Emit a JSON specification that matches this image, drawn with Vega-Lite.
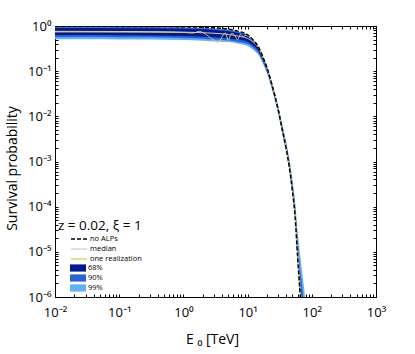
{
  "$schema": "https://vega.github.io/schema/vega-lite/v6.json",
  "width": 321,
  "height": 271,
  "autosize": {"type": "none"},
  "padding": {"left": 55, "top": 26, "right": 39, "bottom": 57},
  "background": "white",
  "title": {"text": "z = 0.02,  ξ = 1", "anchor": "start", "frame": "group", "orient": "top", "offset": 0, "dx": 3, "dy": 212, "fontSize": 13.5, "fontWeight": "normal", "font": "Open Sans", "color": "black"},
  "config": {
    "view": {"stroke": "black", "strokeWidth": 1},
    "font": "Open Sans",
    "axis": {"domainColor": "black", "tickColor": "black", "labelColor": "black", "titleColor": "black", "grid": false, "labelFont": "Open Sans", "titleFont": "Open Sans", "labelFontSize": 13, "titleFontSize": 14, "titleFontWeight": "normal", "tickSize": -3, "labelOverlap": false, "labelFlush": false},
    "legend": {"labelFont": "Open Sans", "labelColor": "black"}
  },
  "datasets": {
    "bands": [
      {"E": 0.01, "band": "99%", "lo": 0.51, "hi": 0.965},
      {"E": 0.03, "band": "99%", "lo": 0.51, "hi": 0.965},
      {"E": 0.1, "band": "99%", "lo": 0.505, "hi": 0.96},
      {"E": 0.3, "band": "99%", "lo": 0.5, "hi": 0.955},
      {"E": 1, "band": "99%", "lo": 0.49, "hi": 0.94},
      {"E": 2, "band": "99%", "lo": 0.47, "hi": 0.92},
      {"E": 3, "band": "99%", "lo": 0.455, "hi": 0.89},
      {"E": 5, "band": "99%", "lo": 0.44, "hi": 0.84},
      {"E": 7, "band": "99%", "lo": 0.41, "hi": 0.76},
      {"E": 10, "band": "99%", "lo": 0.36, "hi": 0.635},
      {"E": 12, "band": "99%", "lo": 0.3, "hi": 0.5},
      {"E": 15, "band": "99%", "lo": 0.22, "hi": 0.34},
      {"E": 17, "band": "99%", "lo": 0.155, "hi": 0.228},
      {"E": 20, "band": "99%", "lo": 0.09, "hi": 0.13},
      {"E": 25, "band": "99%", "lo": 0.031, "hi": 0.045},
      {"E": 30, "band": "99%", "lo": 0.011, "hi": 0.017},
      {"E": 35, "band": "99%", "lo": 0.0038, "hi": 0.0063},
      {"E": 40, "band": "99%", "lo": 0.0015, "hi": 0.0027},
      {"E": 45, "band": "99%", "lo": 0.00058, "hi": 0.0011},
      {"E": 50, "band": "99%", "lo": 0.00018, "hi": 0.0004},
      {"E": 55, "band": "99%", "lo": 0.00005, "hi": 0.00013},
      {"E": 60, "band": "99%", "lo": 7e-6, "hi": 3e-5},
      {"E": 65, "band": "99%", "lo": 1.4e-6, "hi": 1e-5},
      {"E": 70, "band": "99%", "lo": 4e-7, "hi": 4e-6},
      {"E": 75, "band": "99%", "lo": 1e-7, "hi": 1.8e-6},
      {"E": 80, "band": "99%", "lo": 1e-7, "hi": 8e-7},
      {"E": 0.01, "band": "90%", "lo": 0.57, "hi": 0.94},
      {"E": 0.03, "band": "90%", "lo": 0.57, "hi": 0.94},
      {"E": 0.1, "band": "90%", "lo": 0.565, "hi": 0.935},
      {"E": 0.3, "band": "90%", "lo": 0.56, "hi": 0.93},
      {"E": 1, "band": "90%", "lo": 0.54, "hi": 0.91},
      {"E": 2, "band": "90%", "lo": 0.52, "hi": 0.89},
      {"E": 3, "band": "90%", "lo": 0.5, "hi": 0.86},
      {"E": 5, "band": "90%", "lo": 0.48, "hi": 0.81},
      {"E": 7, "band": "90%", "lo": 0.45, "hi": 0.74},
      {"E": 10, "band": "90%", "lo": 0.4, "hi": 0.62},
      {"E": 12, "band": "90%", "lo": 0.34, "hi": 0.49},
      {"E": 15, "band": "90%", "lo": 0.245, "hi": 0.335},
      {"E": 17, "band": "90%", "lo": 0.17, "hi": 0.225},
      {"E": 20, "band": "90%", "lo": 0.098, "hi": 0.127},
      {"E": 25, "band": "90%", "lo": 0.034, "hi": 0.044},
      {"E": 30, "band": "90%", "lo": 0.0122, "hi": 0.016},
      {"E": 35, "band": "90%", "lo": 0.0042, "hi": 0.0058},
      {"E": 40, "band": "90%", "lo": 0.0017, "hi": 0.0024},
      {"E": 45, "band": "90%", "lo": 0.00064, "hi": 0.00095},
      {"E": 50, "band": "90%", "lo": 0.0002, "hi": 0.00033},
      {"E": 55, "band": "90%", "lo": 0.000055, "hi": 0.0001},
      {"E": 60, "band": "90%", "lo": 8e-6, "hi": 2e-5},
      {"E": 65, "band": "90%", "lo": 1.5e-6, "hi": 5e-6},
      {"E": 70, "band": "90%", "lo": 4e-7, "hi": 1.9e-6},
      {"E": 75, "band": "90%", "lo": 1e-7, "hi": 8e-7},
      {"E": 0.01, "band": "68%", "lo": 0.63, "hi": 0.9},
      {"E": 0.03, "band": "68%", "lo": 0.63, "hi": 0.9},
      {"E": 0.1, "band": "68%", "lo": 0.625, "hi": 0.895},
      {"E": 0.3, "band": "68%", "lo": 0.62, "hi": 0.89},
      {"E": 1, "band": "68%", "lo": 0.6, "hi": 0.87},
      {"E": 2, "band": "68%", "lo": 0.58, "hi": 0.85},
      {"E": 3, "band": "68%", "lo": 0.56, "hi": 0.82},
      {"E": 5, "band": "68%", "lo": 0.53, "hi": 0.77},
      {"E": 7, "band": "68%", "lo": 0.5, "hi": 0.7},
      {"E": 10, "band": "68%", "lo": 0.45, "hi": 0.6},
      {"E": 12, "band": "68%", "lo": 0.38, "hi": 0.47},
      {"E": 15, "band": "68%", "lo": 0.27, "hi": 0.33},
      {"E": 17, "band": "68%", "lo": 0.185, "hi": 0.225},
      {"E": 20, "band": "68%", "lo": 0.105, "hi": 0.125},
      {"E": 25, "band": "68%", "lo": 0.036, "hi": 0.043},
      {"E": 30, "band": "68%", "lo": 0.013, "hi": 0.0155},
      {"E": 35, "band": "68%", "lo": 0.0045, "hi": 0.0055},
      {"E": 40, "band": "68%", "lo": 0.0018, "hi": 0.0022},
      {"E": 45, "band": "68%", "lo": 0.00068, "hi": 0.00085},
      {"E": 50, "band": "68%", "lo": 0.00021, "hi": 0.00028},
      {"E": 55, "band": "68%", "lo": 0.00006, "hi": 0.00008},
      {"E": 60, "band": "68%", "lo": 9e-6, "hi": 1.3e-5},
      {"E": 65, "band": "68%", "lo": 1.6e-6, "hi": 3e-6},
      {"E": 70, "band": "68%", "lo": 4e-7, "hi": 1e-6},
      {"E": 75, "band": "68%", "lo": 1e-7, "hi": 3e-7}
    ],
    "lines": [
      {"E": 0.01, "series": "no ALPs", "P": 0.985},
      {"E": 0.03, "series": "no ALPs", "P": 0.985},
      {"E": 0.1, "series": "no ALPs", "P": 0.98},
      {"E": 0.3, "series": "no ALPs", "P": 0.975},
      {"E": 1, "series": "no ALPs", "P": 0.96},
      {"E": 2, "series": "no ALPs", "P": 0.935},
      {"E": 3, "series": "no ALPs", "P": 0.91},
      {"E": 5, "series": "no ALPs", "P": 0.85},
      {"E": 7, "series": "no ALPs", "P": 0.77},
      {"E": 10, "series": "no ALPs", "P": 0.64},
      {"E": 12, "series": "no ALPs", "P": 0.5},
      {"E": 15, "series": "no ALPs", "P": 0.33},
      {"E": 17, "series": "no ALPs", "P": 0.22},
      {"E": 20, "series": "no ALPs", "P": 0.12},
      {"E": 25, "series": "no ALPs", "P": 0.04},
      {"E": 30, "series": "no ALPs", "P": 0.014},
      {"E": 35, "series": "no ALPs", "P": 0.0048},
      {"E": 40, "series": "no ALPs", "P": 0.0019},
      {"E": 45, "series": "no ALPs", "P": 0.0007},
      {"E": 50, "series": "no ALPs", "P": 0.00022},
      {"E": 55, "series": "no ALPs", "P": 0.00006},
      {"E": 60, "series": "no ALPs", "P": 8e-6},
      {"E": 65, "series": "no ALPs", "P": 1.5e-6},
      {"E": 70, "series": "no ALPs", "P": 4e-7},
      {"E": 0.01, "series": "median", "P": 0.76},
      {"E": 0.1, "series": "median", "P": 0.755},
      {"E": 0.3, "series": "median", "P": 0.75},
      {"E": 1, "series": "median", "P": 0.73},
      {"E": 2, "series": "median", "P": 0.71},
      {"E": 3, "series": "median", "P": 0.69},
      {"E": 5, "series": "median", "P": 0.65},
      {"E": 7, "series": "median", "P": 0.6},
      {"E": 10, "series": "median", "P": 0.53},
      {"E": 12, "series": "median", "P": 0.45},
      {"E": 15, "series": "median", "P": 0.32},
      {"E": 17, "series": "median", "P": 0.215},
      {"E": 20, "series": "median", "P": 0.118},
      {"E": 25, "series": "median", "P": 0.04},
      {"E": 30, "series": "median", "P": 0.0142},
      {"E": 35, "series": "median", "P": 0.005},
      {"E": 40, "series": "median", "P": 0.002},
      {"E": 45, "series": "median", "P": 0.00075},
      {"E": 50, "series": "median", "P": 0.00024},
      {"E": 55, "series": "median", "P": 0.000068},
      {"E": 60, "series": "median", "P": 0.000011},
      {"E": 65, "series": "median", "P": 2.2e-6},
      {"E": 70, "series": "median", "P": 6e-7},
      {"E": 0.01, "series": "one realization", "P": 0.74},
      {"E": 0.1, "series": "one realization", "P": 0.735},
      {"E": 0.3, "series": "one realization", "P": 0.73},
      {"E": 1, "series": "one realization", "P": 0.72},
      {"E": 1.4, "series": "one realization", "P": 0.7},
      {"E": 1.8, "series": "one realization", "P": 0.76},
      {"E": 2.2, "series": "one realization", "P": 0.66},
      {"E": 2.8, "series": "one realization", "P": 0.52},
      {"E": 3.5, "series": "one realization", "P": 0.43},
      {"E": 4.0, "series": "one realization", "P": 0.58},
      {"E": 4.5, "series": "one realization", "P": 0.7},
      {"E": 5.0, "series": "one realization", "P": 0.48},
      {"E": 5.6, "series": "one realization", "P": 0.68},
      {"E": 6.2, "series": "one realization", "P": 0.64},
      {"E": 7.0, "series": "one realization", "P": 0.5},
      {"E": 7.8, "series": "one realization", "P": 0.66},
      {"E": 8.5, "series": "one realization", "P": 0.58},
      {"E": 9.3, "series": "one realization", "P": 0.62},
      {"E": 10, "series": "one realization", "P": 0.6},
      {"E": 12, "series": "one realization", "P": 0.47},
      {"E": 15, "series": "one realization", "P": 0.325},
      {"E": 17, "series": "one realization", "P": 0.218},
      {"E": 20, "series": "one realization", "P": 0.12},
      {"E": 25, "series": "one realization", "P": 0.04},
      {"E": 30, "series": "one realization", "P": 0.014},
      {"E": 35, "series": "one realization", "P": 0.0049},
      {"E": 40, "series": "one realization", "P": 0.0019},
      {"E": 45, "series": "one realization", "P": 0.00072},
      {"E": 50, "series": "one realization", "P": 0.00023},
      {"E": 55, "series": "one realization", "P": 0.00006},
      {"E": 60, "series": "one realization", "P": 9e-6},
      {"E": 65, "series": "one realization", "P": 1.8e-6},
      {"E": 70, "series": "one realization", "P": 5e-7}
    ]
  },
  "layer": [
    {
      "data": {"name": "bands"},
      "transform": [{"filter": "datum.band == '99%'"}],
      "mark": {"type": "area", "clip": true, "interpolate": "monotone"},
      "encoding": {
        "x": {"field": "E", "type": "quantitative", "scale": {"type": "log", "domain": [0.01, 1000], "nice": false},
          "axis": {"orient": "bottom", "title": "E ₀ [TeV]", "titleX": 157, "titleY": 42, "titleBaseline": "middle", "labelPadding": 12, "labelBaseline": "top",
            "values": [0.01,0.02,0.03,0.04,0.05,0.06,0.07,0.08,0.09,0.1,0.2,0.3,0.4,0.5,0.6,0.7,0.8,0.9,1,2,3,4,5,6,7,8,9,10,20,30,40,50,60,70,80,90,100,200,300,400,500,600,700,800,900,1000],
            "labelExpr": "datum.value == 0.01 ? '10⁻²' : datum.value == 0.1 ? '10⁻¹' : datum.value == 1 ? '10⁰' : datum.value == 10 ? '10¹' : datum.value == 100 ? '10²' : datum.value == 1000 ? '10³' : ''"}},
        "y": {"field": "lo", "type": "quantitative", "scale": {"type": "log", "domain": [1e-6, 1], "nice": false},
          "axis": {"orient": "left", "title": "Survival probability", "titleX": -43, "titleY": 142, "titleBaseline": "middle", "titleAngle": -90, "labelPadding": 7,
            "values": [1e-6,2e-6,3e-6,4e-6,5e-6,6e-6,7e-6,8e-6,9e-6,1e-5,2e-5,3e-5,4e-5,5e-5,6e-5,7e-5,8e-5,9e-5,0.0001,0.0002,0.0003,0.0004,0.0005,0.0006,0.0007,0.0008,0.0009,0.001,0.002,0.003,0.004,0.005,0.006,0.007,0.008,0.009,0.01,0.02,0.03,0.04,0.05,0.06,0.07,0.08,0.09,0.1,0.2,0.3,0.4,0.5,0.6,0.7,0.8,0.9,1],
            "labelExpr": "datum.value == 1 ? '10⁰' : datum.value == 0.1 ? '10⁻¹' : datum.value == 0.01 ? '10⁻²' : datum.value == 0.001 ? '10⁻³' : datum.value == 0.0001 ? '10⁻⁴' : datum.value == 0.00001 ? '10⁻⁵' : datum.value == 0.000001 ? '10⁻⁶' : ''"}},
        "y2": {"field": "hi"},
        "fill": {"field": "band", "type": "nominal",
          "scale": {"domain": ["68%", "90%", "99%"], "range": ["#04198c", "#2a62d4", "#62b0f2"]},
          "legend": {"orient": "none", "legendX": 19, "legendY": 238, "title": null, "symbolType": "M-2,-0.9H2V0.9H-2Z", "symbolSize": 64, "symbolStrokeWidth": 0, "symbolOpacity": 1, "labelFontSize": 7.5, "labelOffset": 6, "rowPadding": 2, "padding": 0}}
      }
    },
    {
      "data": {"name": "bands"},
      "transform": [{"filter": "datum.band == '90%'"}],
      "mark": {"type": "area", "clip": true, "interpolate": "monotone"},
      "encoding": {
        "x": {"field": "E", "type": "quantitative", "axis": null},
        "y": {"field": "lo", "type": "quantitative", "axis": null},
        "y2": {"field": "hi"},
        "fill": {"field": "band", "type": "nominal"}
      }
    },
    {
      "data": {"name": "bands"},
      "transform": [{"filter": "datum.band == '68%'"}],
      "mark": {"type": "area", "clip": true, "interpolate": "monotone"},
      "encoding": {
        "x": {"field": "E", "type": "quantitative", "axis": null},
        "y": {"field": "lo", "type": "quantitative", "axis": null},
        "y2": {"field": "hi"},
        "fill": {"field": "band", "type": "nominal"}
      }
    },
    {
      "data": {"name": "lines"},
      "transform": [{"filter": "datum.series == 'median'"}],
      "mark": {"type": "line", "clip": true, "interpolate": "monotone", "strokeWidth": 1},
      "encoding": {
        "x": {"field": "E", "type": "quantitative", "axis": null},
        "y": {"field": "P", "type": "quantitative", "axis": null},
        "color": {"field": "series", "type": "nominal",
          "scale": {"domain": ["no ALPs", "median", "one realization"], "range": ["#000000", "#d4d4d4", "#e2d070"]},
          "legend": {"orient": "none", "legendX": 19, "legendY": 208, "title": null, "symbolType": "M-2,0H2", "symbolSize": 64, "symbolStrokeWidth": 1.5, "labelFontSize": 7.5, "labelOffset": 6, "rowPadding": 1, "padding": 0}},
        "strokeDash": {"field": "series", "type": "nominal",
          "scale": {"domain": ["no ALPs", "median", "one realization"], "range": [[4, 2], [1, 0], [1, 0]]},
          "legend": {"orient": "none", "legendX": 19, "legendY": 208, "title": null, "symbolType": "M-2,0H2", "symbolSize": 64, "symbolStrokeWidth": 1.5, "labelFontSize": 7.5, "labelOffset": 6, "rowPadding": 1, "padding": 0}}
      }
    },
    {
      "data": {"name": "lines"},
      "transform": [{"filter": "datum.series == 'one realization'"}],
      "mark": {"type": "line", "clip": true, "interpolate": "monotone", "strokeWidth": 1},
      "encoding": {
        "x": {"field": "E", "type": "quantitative", "axis": null},
        "y": {"field": "P", "type": "quantitative", "axis": null},
        "color": {"field": "series", "type": "nominal"},
        "strokeDash": {"field": "series", "type": "nominal"}
      }
    },
    {
      "data": {"name": "lines"},
      "transform": [{"filter": "datum.series == 'no ALPs'"}],
      "mark": {"type": "line", "clip": true, "interpolate": "monotone", "strokeWidth": 1.5},
      "encoding": {
        "x": {"field": "E", "type": "quantitative",
          "axis": {"orient": "top", "title": null, "labels": false,
            "values": [0.01,0.02,0.03,0.04,0.05,0.06,0.07,0.08,0.09,0.1,0.2,0.3,0.4,0.5,0.6,0.7,0.8,0.9,1,2,3,4,5,6,7,8,9,10,20,30,40,50,60,70,80,90,100,200,300,400,500,600,700,800,900,1000]}},
        "y": {"field": "P", "type": "quantitative",
          "axis": {"orient": "right", "title": null, "labels": false,
            "values": [1e-6,2e-6,3e-6,4e-6,5e-6,6e-6,7e-6,8e-6,9e-6,1e-5,2e-5,3e-5,4e-5,5e-5,6e-5,7e-5,8e-5,9e-5,0.0001,0.0002,0.0003,0.0004,0.0005,0.0006,0.0007,0.0008,0.0009,0.001,0.002,0.003,0.004,0.005,0.006,0.007,0.008,0.009,0.01,0.02,0.03,0.04,0.05,0.06,0.07,0.08,0.09,0.1,0.2,0.3,0.4,0.5,0.6,0.7,0.8,0.9,1]}},
        "color": {"field": "series", "type": "nominal"},
        "strokeDash": {"field": "series", "type": "nominal"}
      }
    }
  ],
  "resolve": {"axis": {"x": "independent", "y": "independent"}}
}
